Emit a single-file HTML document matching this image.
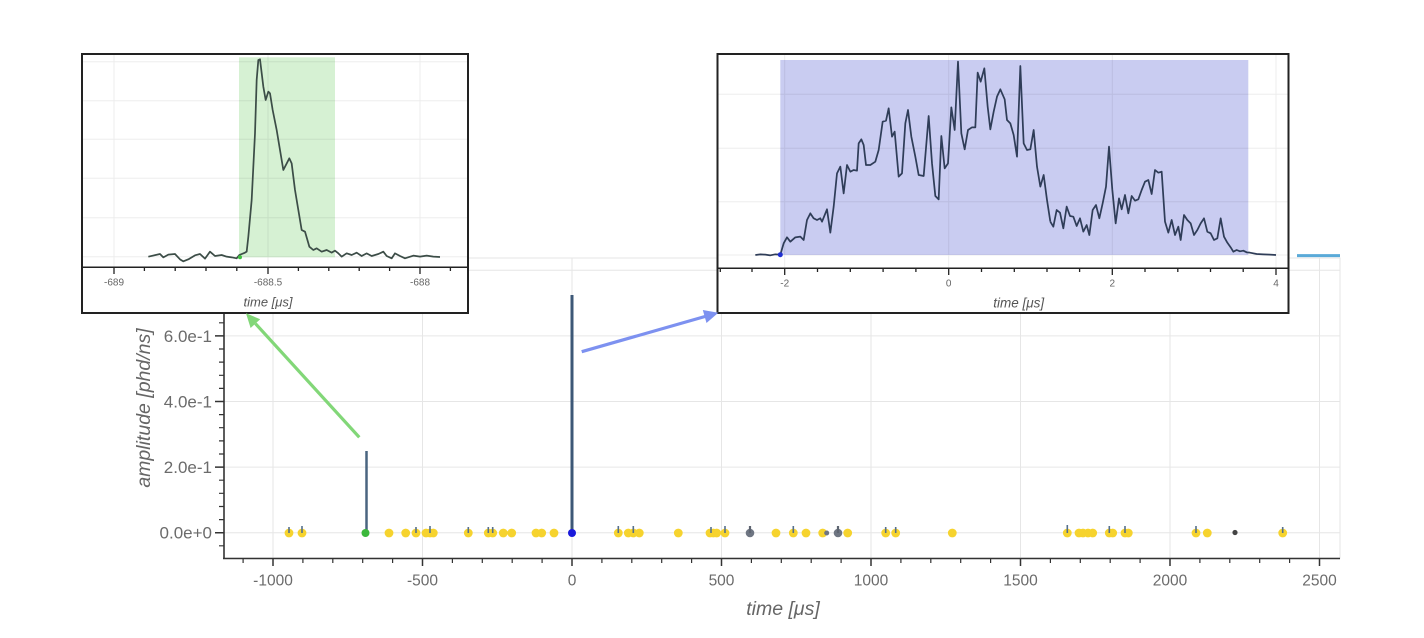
<!DOCTYPE html>
<html>
<head>
<meta charset="utf-8">
<style>
  html, body { margin:0; padding:0; background:#ffffff; }
  svg { display:block; }
  text { font-family: "Liberation Sans", "DejaVu Sans", sans-serif; }
</style>
</head>
<body>
<svg width="1424" height="638" viewBox="0 0 1424 638" xmlns="http://www.w3.org/2000/svg">
  <rect x="0" y="0" width="1424" height="638" fill="#ffffff"/>

  <!-- MAIN PLOT frame + grid -->
  <rect x="224" y="258" width="1116" height="300" fill="none" stroke="#e6e6e6" stroke-width="1"/>
  <path stroke="#e6e6e6" stroke-width="1" fill="none"
    d="M273,258V558 M422.5,258V558 M572,258V558 M721.5,258V558 M871,258V558 M1020.5,258V558 M1170,258V558 M1319.5,258V558
       M224,532.7H1340 M224,467.1H1340 M224,401.5H1340 M224,335.9H1340 M224,270.3H1340"/>

  <line x1="1297" y1="255.6" x2="1340" y2="255.6" stroke="#5aaad8" stroke-width="3"/>

  <!-- axes -->
  <line x1="224" y1="258" x2="224" y2="559" stroke="#333" stroke-width="1.6"/>
  <line x1="223" y1="558.5" x2="1340" y2="558.5" stroke="#333" stroke-width="1.6"/>

  <!-- x ticks -->
  <path stroke="#333" stroke-width="1.5" fill="none"
    d="M273,558V566 M422.5,558V566 M572,558V566 M721.5,558V566 M871,558V566 M1020.5,558V566 M1170,558V566 M1319.5,558V566"/>
  <path stroke="#333" stroke-width="1.2" fill="none"
    d="M243.1,558V563 M302.9,558V563 M332.8,558V563 M362.7,558V563 M392.6,558V563
       M452.4,558V563 M482.3,558V563 M512.2,558V563 M542.1,558V563
       M601.9,558V563 M631.8,558V563 M661.7,558V563 M691.6,558V563
       M751.4,558V563 M781.3,558V563 M811.2,558V563 M841.1,558V563
       M900.9,558V563 M930.8,558V563 M960.7,558V563 M990.6,558V563
       M1050.4,558V563 M1080.3,558V563 M1110.2,558V563 M1140.1,558V563
       M1199.9,558V563 M1229.8,558V563 M1259.7,558V563 M1289.6,558V563"/>

  <!-- y ticks -->
  <path stroke="#333" stroke-width="1.5" fill="none"
    d="M215,532.7H224 M215,467.1H224 M215,401.5H224 M215,335.9H224 M215,270.3H224"/>
  <path stroke="#333" stroke-width="1.2" fill="none"
    d="M219,545.8H224 M219,519.6H224 M219,506.5H224 M219,493.3H224 M219,480.2H224
       M219,454H224 M219,440.9H224 M219,427.7H224 M219,414.6H224
       M219,388.4H224 M219,375.3H224 M219,362.1H224 M219,349H224
       M219,322.8H224 M219,309.7H224 M219,296.5H224 M219,283.4H224"/>

  <!-- tick labels -->
  <g fill="#6b6b6b" font-size="15.5" text-anchor="middle">
    <text x="273" y="585.5">-1000</text>
    <text x="422.5" y="585.5">-500</text>
    <text x="572" y="585.5">0</text>
    <text x="721.5" y="585.5">500</text>
    <text x="871" y="585.5">1000</text>
    <text x="1020.5" y="585.5">1500</text>
    <text x="1170" y="585.5">2000</text>
    <text x="1319.5" y="585.5">2500</text>
  </g>
  <g fill="#6b6b6b" font-size="17" text-anchor="end">
    <text x="212" y="538.7">0.0e+0</text>
    <text x="212" y="473.1">2.0e-1</text>
    <text x="212" y="407.5">4.0e-1</text>
    <text x="212" y="341.9">6.0e-1</text>
  </g>
  <text x="783" y="615" fill="#666" font-size="19.5" font-style="italic" text-anchor="middle">time [μs]</text>
  <text transform="translate(150,408) rotate(-90)" fill="#666" font-size="19.5" font-style="italic" text-anchor="middle">amplitude [phd/ns]</text>

  <!-- pulses -->
  <line x1="366.5" y1="533" x2="366.5" y2="451" stroke="#4a6580" stroke-width="2.5"/>
  <line x1="572" y1="533" x2="572" y2="295" stroke="#3d5877" stroke-width="3"/>

  <!-- yellow dots -->
  <g fill="#f6d32e">
    <circle cx="289" cy="533" r="4.4"/><circle cx="302" cy="533" r="4.4"/>
    <circle cx="389" cy="533" r="4.4"/><circle cx="405.7" cy="533" r="4.4"/>
    <circle cx="416" cy="533" r="4.4"/><circle cx="426" cy="533" r="4.4"/>
    <circle cx="430" cy="533" r="4.4"/><circle cx="433.3" cy="533" r="4.4"/>
    <circle cx="468.3" cy="533" r="4.4"/><circle cx="488.3" cy="533" r="4.4"/>
    <circle cx="492.7" cy="533" r="4.4"/><circle cx="503.3" cy="533" r="4.4"/>
    <circle cx="511.7" cy="533" r="4.4"/><circle cx="536" cy="533" r="4.4"/>
    <circle cx="541.7" cy="533" r="4.4"/><circle cx="554" cy="533" r="4.4"/>
    <circle cx="618.3" cy="533" r="4.4"/><circle cx="628.3" cy="533" r="4.4"/>
    <circle cx="633.3" cy="533" r="4.4"/><circle cx="639.3" cy="533" r="4.4"/>
    <circle cx="678.3" cy="533" r="4.4"/><circle cx="710" cy="533" r="4.4"/>
    <circle cx="713.3" cy="533" r="4.4"/><circle cx="716.7" cy="533" r="4.4"/>
    <circle cx="725" cy="533" r="4.4"/><circle cx="776" cy="533" r="4.4"/>
    <circle cx="793.3" cy="533" r="4.4"/><circle cx="806" cy="533" r="4.4"/>
    <circle cx="822.7" cy="533" r="4.4"/><circle cx="847.7" cy="533" r="4.4"/>
    <circle cx="885.7" cy="533" r="4.4"/><circle cx="895.7" cy="533" r="4.4"/>
    <circle cx="952.3" cy="533" r="4.4"/><circle cx="1067.3" cy="533" r="4.4"/>
    <circle cx="1079" cy="533" r="4.4"/><circle cx="1083" cy="533" r="4.4"/>
    <circle cx="1088" cy="533" r="4.4"/><circle cx="1092.7" cy="533" r="4.4"/>
    <circle cx="1109.3" cy="533" r="4.4"/><circle cx="1112.7" cy="533" r="4.4"/>
    <circle cx="1125" cy="533" r="4.4"/><circle cx="1128.3" cy="533" r="4.4"/>
    <circle cx="1196" cy="533" r="4.4"/><circle cx="1207.3" cy="533" r="4.4"/>
    <circle cx="1282.7" cy="533" r="4.4"/>
  </g>
  <g fill="#6e7582">
    <circle cx="750" cy="533" r="4.3"/>
    <circle cx="838" cy="533" r="4.3"/>
    <circle cx="826.7" cy="533" r="2.5"/>
  </g>
  <circle cx="1235" cy="532.5" r="2.6" fill="#444"/>
  <path stroke="#55708c" stroke-width="1.6" fill="none"
    d="M289,533V527 M302,533V526 M416,533V527 M430,533V526 M468.3,533V527 M488.3,533V527 M492.7,533V527
       M618.3,533V526 M633.3,533V526 M711,533V527 M725,533V526 M793.3,533V526 M885.7,533V527 M895.7,533V527
       M1067.3,533V525 M1109.3,533V526 M1125,533V526 M1196,533V526 M1282.7,533V527"/>
  <path stroke="#5e6571" stroke-width="2.2" fill="none" d="M750,533V526 M838,533V526"/>
  <circle cx="365.5" cy="533" r="4" fill="#3cb83c"/>
  <circle cx="572" cy="533" r="4" fill="#1a1adb"/>

  <!-- LEFT INSET -->
  <rect x="82" y="54" width="386" height="259" fill="#ffffff"/>
  <rect x="239" y="57.3" width="96" height="200" fill="#d6f1d3"/>
  <path stroke="#000" stroke-opacity="0.07" stroke-width="1" fill="none"
    d="M83,61.7H467 M83,100.7H467 M83,139.3H467 M83,178.3H467 M83,217.7H467 M83,256.7H467
       M114,55V267 M268,55V267 M420,55V267"/>
  <g transform="translate(80,50) scale(0.333333)">
    <polyline fill="none" stroke="#3c4d47" stroke-width="5.2" stroke-linejoin="round"
      points="205,620 240,612 250,622 265,614 285,612 300,628 310,634 325,628 345,616 360,612 375,626 390,605 405,618 425,615 440,620 455,622 470,625 478,615 495,608 500,605 505,560 515,450 525,250 530,90 535,30 540,28 550,110 557,150 565,125 570,130 578,180 590,240 600,300 610,360 628,325 635,340 645,420 655,480 665,540 675,545 688,590 700,600 710,595 725,605 740,600 755,608 765,602 775,610 785,620 800,610 815,615 830,608 845,618 860,610 875,618 895,612 910,605 920,618 935,625 945,610 960,618 975,625 1000,617 1020,620 1040,617 1060,620 1080,621"/>
  </g>
  <circle cx="240" cy="257.3" r="2" fill="#40c040"/>
  <line x1="83" y1="267.3" x2="467" y2="267.3" stroke="#222" stroke-width="1.5"/>
  <path stroke="#222" stroke-width="1.3" fill="none"
    d="M114,267V274 M268,267V274 M420,267V274
       M144.4,267V271 M175.2,267V271 M206,267V271 M236.8,267V271 M298.4,267V271 M328.8,267V271 M359.2,267V271 M389.6,267V271 M450.4,267V271"/>
  <g fill="#666" font-size="10" text-anchor="middle">
    <text x="114" y="285.5">-689</text>
    <text x="268" y="285.5">-688.5</text>
    <text x="420" y="285.5">-688</text>
  </g>
  <text x="268" y="306.5" fill="#555" font-size="13" font-style="italic" text-anchor="middle">time [μs]</text>
  <rect x="82" y="54" width="386" height="259" fill="none" stroke="#222" stroke-width="2"/>

  <!-- RIGHT INSET -->
  <rect x="717.5" y="54" width="571" height="259" fill="#ffffff"/>
  <rect x="780.3" y="60" width="468" height="195" fill="#c9ccf1"/>
  <path stroke="#000" stroke-opacity="0.07" stroke-width="1" fill="none"
    d="M718,94.3H1288 M718,148.3H1288 M718,201.7H1288 M718,255H1288
       M784.7,55V268 M948.7,55V268 M1112.3,55V268 M1276,55V268"/>
  <g transform="translate(712,50) scale(0.333333)">
    <polyline fill="none" stroke="#2f3d58" stroke-width="5.2" stroke-linejoin="round"
      points="130,615 145,613 160,614 175,616 190,613 205,614 215,580 225,562 235,575 250,562 265,560 275,570 285,510 295,490 305,505 315,510 325,505 330,515 345,478 355,548 365,470 375,370 385,350 395,430 405,345 415,365 425,360 435,362 440,280 448,268 455,285 462,345 475,345 490,335 500,300 512,215 522,212 530,175 540,260 548,245 560,380 570,370 580,220 588,180 598,260 610,320 620,375 635,378 650,198 660,340 670,438 680,448 688,258 698,355 708,340 718,172 728,240 738,35 748,250 758,298 768,240 780,232 790,232 797,68 806,95 817,55 827,170 835,238 845,185 855,140 865,118 878,148 885,210 895,220 905,255 915,320 925,48 935,280 945,300 955,298 965,240 975,350 985,410 995,375 1005,450 1015,515"/>
  </g>
  <g transform="translate(1050,50) scale(0.333333)">
    <polyline fill="none" stroke="#2f3d58" stroke-width="5.2" stroke-linejoin="round"
      points="1,515 10,530 20,480 30,488 40,535 50,470 60,498 70,500 80,528 90,505 100,545 110,525 118,555 128,480 138,465 148,505 158,460 168,410 177,290 187,420 197,520 207,445 215,478 225,435 235,490 245,438 255,452 265,448 275,420 285,395 295,390 305,432 315,360 325,368 335,365 345,515 355,548 365,510 375,555 385,530 392,570 402,495 412,510 422,520 432,555 442,540 452,520 462,505 472,545 482,550 492,570 502,565 512,505 522,560 532,578 542,592 550,605 560,600 570,604 580,602 590,607 600,608 620,612 640,613 660,614 678,615"/>
  </g>
  <circle cx="780.3" cy="254.7" r="2.5" fill="#1f2fd0"/>
  <line x1="718" y1="268.3" x2="1288" y2="268.3" stroke="#222" stroke-width="1.5"/>
  <path stroke="#222" stroke-width="1.3" fill="none"
    d="M784.7,268V275 M948.7,268V275 M1112.3,268V275 M1276,268V275
       M720.3,268V272 M752,268V272 M817.5,268V272 M850.3,268V272 M883.1,268V272 M915.9,268V272
       M981.5,268V272 M1014.3,268V272 M1047,268V272 M1079.6,268V272
       M1145,268V272 M1177.8,268V272 M1210.5,268V272 M1243.2,268V272"/>
  <g fill="#666" font-size="10" text-anchor="middle">
    <text x="784.7" y="286.5">-2</text>
    <text x="948.7" y="286.5">0</text>
    <text x="1112.3" y="286.5">2</text>
    <text x="1276" y="286.5">4</text>
  </g>
  <text x="1018.7" y="307.5" fill="#555" font-size="13.5" font-style="italic" text-anchor="middle">time [μs]</text>
  <rect x="717.5" y="54" width="571" height="259" fill="none" stroke="#222" stroke-width="2"/>

  <!-- ARROWS -->
  <line x1="359.3" y1="437.3" x2="255.4" y2="323.6" stroke="#82d778" stroke-width="3.2"/>
  <polygon points="246,313.3 260.2,319.2 250.6,328" fill="#82d778"/>
  <line x1="581.7" y1="351.7" x2="705" y2="316.5" stroke="#7d91f0" stroke-width="3.2"/>
  <polygon points="718.3,312.7 706.5,323 702.8,310" fill="#7d91f0"/>
</svg>
</body>
</html>
